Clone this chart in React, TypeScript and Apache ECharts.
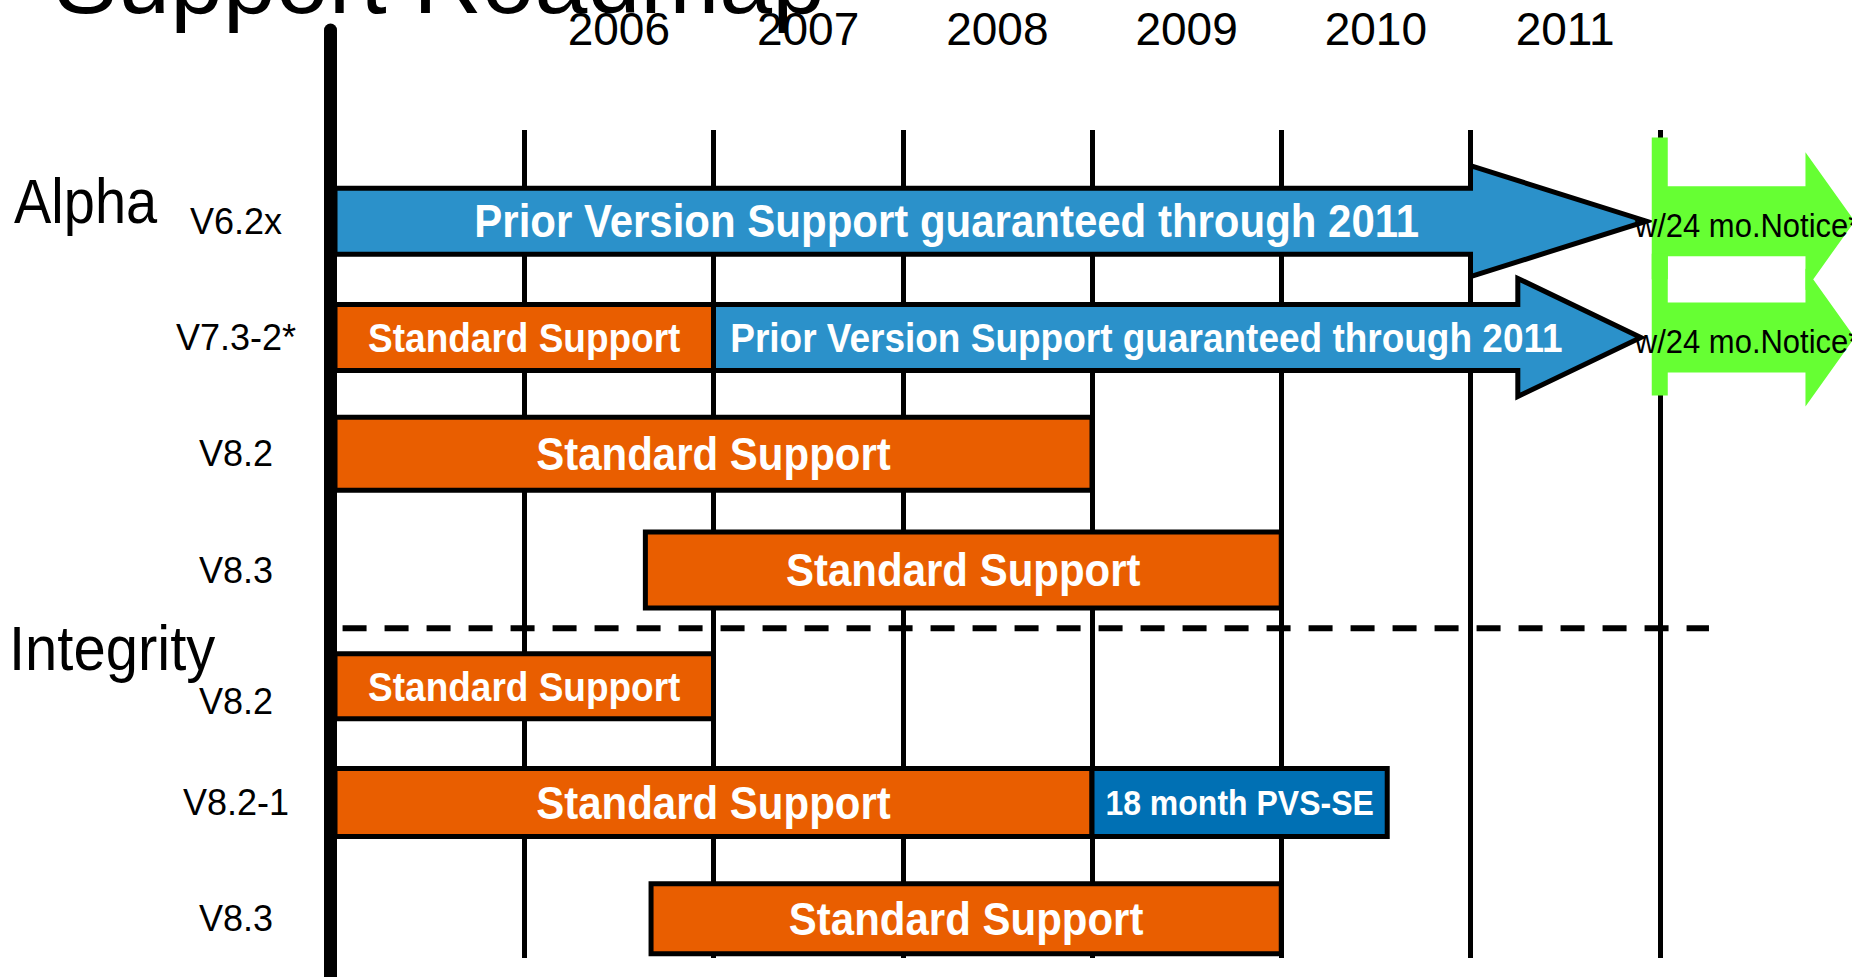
import React, { useEffect, useRef } from 'react';
import * as echarts from 'echarts';

// ---------- data ----------
const years = ['2005', '2006', '2007', '2008', '2009', '2010', '2011', '2012'];
const yearLabels = ['2006', '2007', '2008', '2009', '2010', '2011'];
const rowNames = ['V6.2x', 'V7.3-2*', 'V8.2', 'V8.3', 'V8.2', 'V8.2-1', 'V8.3'];
const groupNames = ['Alpha', 'Integrity'];

const segRow = [0, 0, 1, 1, 1, 2, 3, 4, 5, 5, 6];
const segKind = ['prior', 'notice', 'standard', 'prior', 'notice', 'standard', 'standard', 'standard', 'standard', 'pvs', 'standard'];
const segStart = [2005, 2012, 2005, 2007, 2012, 2005, 2006.64, 2005, 2005, 2009, 2006.67];
const segHeadBase = [2011, 2012.77, 2007, 2011.25, 2012.77, 2009, 2010, 2007, 2009, 2010.56, 2010];
const segEnd = [2011.93, 2013.03, 2007, 2011.9, 2013.03, 2009, 2010, 2007, 2009, 2010.56, 2010];
const segLabel = [
  'Prior Version Support guaranteed through 2011',
  'w/24 mo.Notice**',
  'Standard Support',
  'Prior Version Support guaranteed through 2011',
  'w/24 mo.Notice**',
  'Standard Support',
  'Standard Support',
  'Standard Support',
  'Standard Support',
  '18 month PVS-SE',
  'Standard Support',
];
const dividerAfterRow = 3;
const dividerSpan = [2005.04, 2012.26];

// ---------- styles ----------
const FONT = '"Liberation Sans", Arial, Helvetica, sans-serif';
const BORDER = 5;
const rowBarHeight = [71, 71, 78, 81, 70, 73, 75];
const rowHeadHeight = [116, 123];
const noticeBodyHeight = 70;
const noticeHeadHeight = 138;
const segFontSize = [42, 31, 37, 37, 31, 42, 42, 37, 42, 32, 42];
const kindColor: Record<string, string> = {
  standard: '#E95E00',
  prior: '#2B91CA',
  pvs: '#0070B4',
  notice: '#66FF33',
};

function mkText(x: number, y: number, text: string, size: number, bold: boolean, color: string, align: string, sy: number) {
  return {
    type: 'text',
    x,
    y,
    scaleY: sy,
    style: {
      text,
      fill: color,
      font: `${bold ? 'bold ' : ''}${size}px ${FONT}`,
      align,
      verticalAlign: 'middle',
      textAlign: align,
      textVerticalAlign: 'middle',
    },
  };
}

const renderSeg = (params: any, api: any) => {
  const i = params.dataIndex;
  const row = api.value(2);
  const p0 = api.coord([api.value(0), row]);
  const xs = p0[0];
  const yc = p0[1];
  const xe = api.coord([api.value(1), row])[0];
  const xb = api.coord([segHeadBase[i], row])[0];
  const band = api.size([0, 1])[1];
  const kind = segKind[i];
  const children: any[] = [];
  if (kind === 'standard' || kind === 'pvs') {
    const h = rowBarHeight[row] - BORDER;
    children.push({
      type: 'rect',
      shape: { x: xs, y: yc - h / 2, width: xe - xs, height: h },
      style: { fill: kindColor[kind], stroke: '#000', lineWidth: BORDER },
    });
    children.push(mkText((xs + xe) / 2, yc, segLabel[i], segFontSize[i], true, '#fff', 'center', 1.12));
  } else if (kind === 'prior') {
    const h = (rowBarHeight[row] - BORDER) / 2;
    const hh = (rowHeadHeight[row] - BORDER) / 2;
    children.push({
      type: 'polygon',
      shape: {
        points: [
          [xs, yc - h], [xb, yc - h], [xb, yc - hh], [xe, yc],
          [xb, yc + hh], [xb, yc + h], [xs, yc + h],
        ],
      },
      style: { fill: kindColor[kind], stroke: '#000', lineWidth: BORDER, lineJoin: 'miter' },
    });
    children.push(mkText((xs + (xb + xe) / 2) / 2, yc, segLabel[i], segFontSize[i], true, '#fff', 'center', 1.12));
  } else {
    const h = noticeBodyHeight / 2;
    const hh = noticeHeadHeight / 2;
    const s = 8;
    const st = yc - band * 0.72;
    const sb = yc + band * 0.5;
    children.push({
      type: 'polygon',
      shape: {
        points: [
          [xs - s, st], [xs + s, st], [xs + s, yc - h], [xb, yc - h], [xb, yc - hh], [xe, yc],
          [xb, yc + hh], [xb, yc + h], [xs + s, yc + h], [xs + s, sb], [xs - s, sb],
        ],
      },
      style: { fill: kindColor[kind] },
    });
    children.push(mkText(xs - 25, yc + 4, segLabel[i], segFontSize[i], false, '#000', 'left', 1.1));
  }
  return { type: 'group', children };
};

const renderDivider = (params: any, api: any) => {
  const row = api.value(2);
  const p0 = api.coord([api.value(0), row]);
  const x1 = api.coord([api.value(1), row])[0];
  const y = p0[1] + api.size([0, 1])[1] / 2;
  return {
    type: 'line',
    shape: { x1: p0[0], y1: y, x2: x1, y2: y },
    style: { stroke: '#000', lineWidth: 6, lineDash: [24, 18] },
  };
};

export default function App() {
  const ref = useRef<HTMLDivElement>(null);
  useEffect(() => {
    if (!ref.current) return;
    const chart = echarts.init(ref.current, undefined, { renderer: 'svg' });
    const segData = segRow.map((r, i) => [segStart[i], segEnd[i], r]);
    chart.setOption({
      animation: false,
      backgroundColor: '#fff',
      grid: [
        { left: 335, right: 3, top: 163, height: 823 },
        { left: 335, right: 3, top: 130, height: 828 },
        { left: 330, right: 3, top: 30, bottom: 0 },
      ],
      xAxis: [
        { gridIndex: 0, type: 'value', min: 2005, max: 2013, show: false },
        {
          gridIndex: 1,
          type: 'category',
          data: years,
          boundaryGap: true,
          position: 'top',
          axisLine: { show: false },
          axisTick: { show: false },
          axisLabel: {
            interval: 0,
            formatter: (v: string) => (yearLabels.includes(v) ? v : ''),
            fontSize: 46,
            fontFamily: FONT,
            color: '#000',
            margin: 101,
            verticalAlign: 'middle',
          },
          splitLine: {
            show: true,
            interval: 0,
            showMinLine: false,
            showMaxLine: false,
            lineStyle: { color: '#000', width: 5 },
          },
        },
        { gridIndex: 2, type: 'value', min: 0, max: 1, show: false },
      ],
      yAxis: [
        {
          gridIndex: 0,
          type: 'category',
          data: rowNames,
          inverse: true,
          axisLine: { show: false },
          axisTick: { show: false },
          splitLine: { show: false },
          axisLabel: {
            interval: 0,
            fontSize: 36,
            fontFamily: FONT,
            color: '#000',
            align: 'center',
            margin: 99,
            formatter: (v: string, idx: number) => (idx === 4 ? `{low|${v}}` : v),
            rich: {
              low: { fontSize: 36, fontFamily: FONT, color: '#000', padding: [30, 0, 0, 0] },
            },
          },
        },
        { gridIndex: 1, type: 'value', min: 0, max: 1, show: false },
        {
          gridIndex: 2,
          type: 'value',
          min: 0,
          max: 1,
          axisLine: { show: true, lineStyle: { color: '#000', width: 13 } },
          axisTick: { show: false },
          axisLabel: { show: false },
          splitLine: { show: false },
        },
      ],
      graphic: [
        {
          type: 'text', x: 54, y: -20,
          style: { text: 'Support Roadmap', fill: '#000', font: `95px ${FONT}`, align: 'left', verticalAlign: 'middle' },
        },
        {
          type: 'text', x: 14, y: 201, scaleY: 1.12,
          style: { text: groupNames[0], fill: '#000', font: `56px ${FONT}`, align: 'left', verticalAlign: 'middle' },
        },
        {
          type: 'text', x: 9, y: 648, scaleY: 1.1,
          style: { text: groupNames[1], fill: '#000', font: `58px ${FONT}`, align: 'left', verticalAlign: 'middle' },
        },
      ],
      series: [
        {
          type: 'custom',
          xAxisIndex: 0,
          yAxisIndex: 0,
          clip: false,
          encode: { x: [0, 1], y: 2 },
          data: [[dividerSpan[0], dividerSpan[1], dividerAfterRow]],
          renderItem: renderDivider,
          silent: true,
        },
        {
          type: 'custom',
          xAxisIndex: 0,
          yAxisIndex: 0,
          clip: false,
          encode: { x: [0, 1], y: 2 },
          data: segData,
          renderItem: renderSeg,
          silent: true,
        },
      ],
    });
    return () => chart.dispose();
  }, []);
  return (
    <div style={{ position: 'fixed', left: 0, top: 0, width: 1852, height: 977, background: '#fff', overflow: 'hidden' }}>
      <div ref={ref} style={{ width: 1852, height: 977 }} />
    </div>
  );
}
